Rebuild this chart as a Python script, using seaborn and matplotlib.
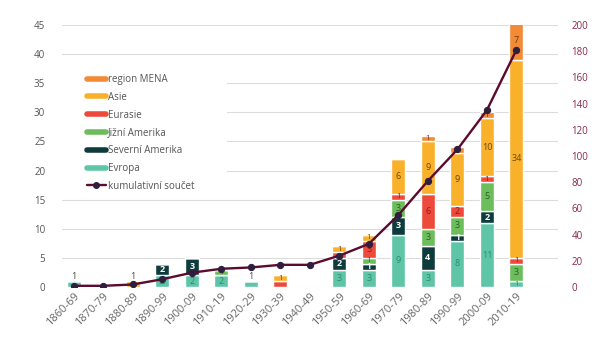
import matplotlib.pyplot as plt
import numpy as np
import pandas as pd
import seaborn as sns
from matplotlib.lines import Line2D
from matplotlib.patches import Rectangle

# data
decades = ['1860-69', '1870-79', '1880-89', '1890-99', '1900-09', '1910-19', '1920-29', '1930-39',
           '1940-49', '1950-59', '1960-69', '1970-79', '1980-89', '1990-99', '2000-09', '2010-19']
evropa = [1, 0, 0, 2, 2, 2, 1, 0, 0, 3, 3, 9, 3, 8, 11, 1]
severni = [0, 0, 0, 2, 3, 0, 0, 0, 0, 2, 1, 3, 4, 1, 2, 0]
jizni = [0, 0, 0, 0, 0, 1, 0, 0, 0, 0, 1, 3, 3, 3, 5, 3]
eurasie = [0, 0, 0, 0, 0, 0, 0, 1, 0, 1, 3, 1, 6, 2, 1, 1]
asie = [0, 0, 1, 0, 0, 0, 0, 1, 0, 1, 1, 6, 9, 9, 10, 34]
mena = [0, 0, 0, 0, 0, 0, 0, 0, 0, 0, 0, 0, 1, 1, 1, 7]

# labels hidden in the original (covered by the neighbouring segment)
hidden = {('Eurasie', '1930-39'), ('Eurasie', '1950-59')}

series = [
    ('Evropa', evropa, '#5ec5a6', '#2b8a72'),
    ('Severní Amerika', severni, '#0e3b3c', 'white'),
    ('Jižní Amerika', jizni, '#6cbd5b', '#2d5e26'),
    ('Eurasie', eurasie, '#ee4a3b', '#8a1d16'),
    ('Asie', asie, '#f9b02a', '#6b4a0a'),
    ('region MENA', mena, '#f28a36', '#6b3510'),
]

df = pd.DataFrame({'dekada': decades})
for name, vals, _, _ in series:
    df[name] = vals
df['celkem'] = df[[s[0] for s in series]].sum(axis=1)
df['kumulativni'] = df['celkem'].cumsum()

sns.set_style('white')
plt.rcParams['font.family'] = ['Open Sans', 'DejaVu Sans']

fig = plt.figure(figsize=(6.01, 3.51), dpi=100)
ax = fig.add_axes([0.103, 0.182, 0.825, 0.747])
ax.set_axisbelow(True)
ax.grid(axis='y', color='#dcdcdc', lw=0.8)

bottom = np.zeros(len(decades))
for name, vals, col, tcol in series:
    vals = np.array(vals, dtype=float)
    sns.barplot(x=df['dekada'], y=vals, bottom=bottom, color=col, width=0.48,
                saturation=1, ax=ax, zorder=2)
    for i, v in enumerate(vals):
        if v <= 0 or (name, decades[i]) in hidden:
            continue
        fs = 6.5 if v > 1 else 5.8
        if df['celkem'][i] == 1 and i != 5:
            yy = bottom[i] + v + 0.9
            c = '#444444'
            fs = 6.5
        else:
            yy = bottom[i] + v / 2
            c = tcol
            if name == 'region MENA' and v > 1:
                yy = 42.4
        ax.text(i, yy, str(int(v)), ha='center', va='center', fontsize=fs, color=c,
                fontweight='bold' if tcol == 'white' else 'normal', zorder=4)
    bottom += vals

ax.set_ylim(0, 45)
ax.set_xlim(-0.4, 16.4)
ax.set_yticks(range(0, 46, 5))
ax.set_xlabel('')
ax.set_ylabel('')
ax.tick_params(axis='y', labelsize=7, colors='#555555', length=0, pad=12)
ax.tick_params(axis='x', labelsize=8, colors='#666666', length=0, pad=3)
plt.setp(ax.get_xticklabels(), rotation=45, ha='right', rotation_mode='anchor')
sns.despine(ax=ax, left=True, bottom=True)

# white box behind the legend hides the grid lines there
ax.add_patch(Rectangle((0, 0.35), 0.333, 0.51, transform=ax.transAxes,
                       facecolor='white', edgecolor='none', zorder=1.5))

ax2 = ax.twinx()
sns.lineplot(x=np.arange(len(decades)), y=df['kumulativni'], ax=ax2, color='#5c0a2e', lw=1.7,
             marker='o', markersize=4.5, markerfacecolor='#2e1f3e', markeredgecolor='#2e1f3e', zorder=5)
ax2.set_ylim(0, 200)
ax2.set_yticks(range(0, 201, 20))
ax2.set_ylabel('')
ax2.tick_params(axis='y', labelsize=7, colors='#8a2846', length=0, pad=10)
sns.despine(ax=ax2, left=True, bottom=True, right=True)

handles = [Line2D([0], [0], color=c, lw=4) for _, _, c, _ in series[::-1]]
labels = [n for n, _, _, _ in series[::-1]]
handles.append(Line2D([0], [0], color='#5c0a2e', lw=1.7, marker='o', markersize=4,
                      markerfacecolor='#2e1f3e', markeredgecolor='#2e1f3e'))
labels.append('kumulativní součet')
leg = ax2.legend(handles, labels, loc='upper left', bbox_to_anchor=(0.042, 0.828), fontsize=7,
                 frameon=False, handlelength=2.0, handletextpad=0.2, labelspacing=0.7,
                 borderaxespad=0)
for t in leg.get_texts():
    t.set_color('#555555')

fig.savefig('out.png', dpi=100)
